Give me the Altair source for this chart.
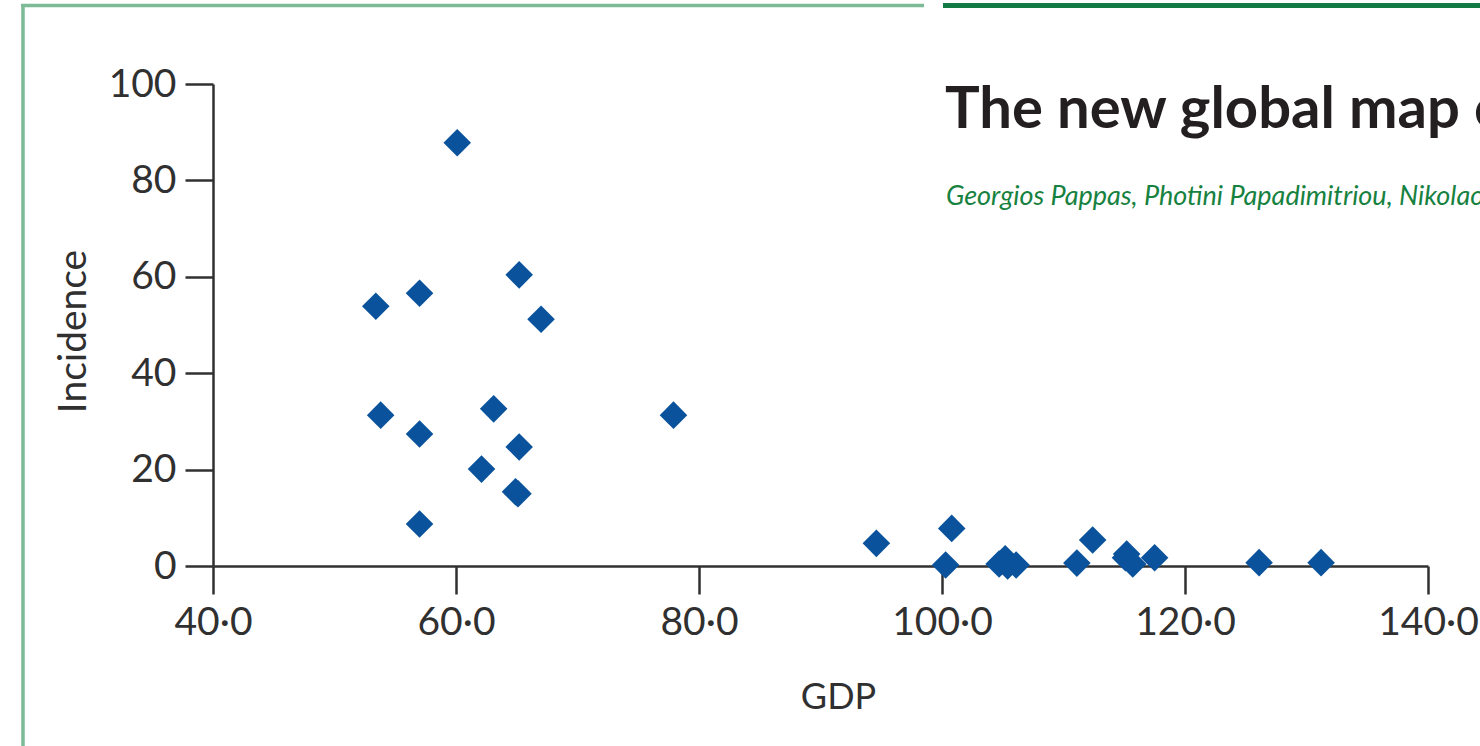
import altair as alt
import pandas as pd

# Data
gdp = [60.1, 53.4, 57.0, 65.2, 67.0, 53.8, 57.0, 63.1, 62.1, 65.2, 64.9, 65.1,
       57.0, 77.9, 94.6, 100.8, 100.3, 104.7, 105.2, 105.4, 106.1, 111.1,
       112.4, 115.1, 115.2, 115.7, 117.5, 126.1, 131.2]
incidence = [87.8, 53.9, 56.6, 60.4, 51.2, 31.3, 27.4, 32.6, 20.1, 24.7, 15.4,
             15.0, 8.7, 31.3, 4.7, 7.8, 0.2, 0.4, 1.5, 0.0, 0.2, 0.6, 5.4,
             1.7, 2.5, 0.4, 1.7, 0.7, 0.7]
x_ticks = [40, 60, 80, 100, 120, 140]
y_ticks = [0, 20, 40, 60, 80, 100]

title_text = ["The new global map of human brucellosis"]
author_text = ["Georgios Pappas, Photini Papadimitriou, Nikolaos Akritidis, "
               "Leonidas Christou, Epameinondas V Tsianos"]

df = pd.DataFrame({"GDP": gdp, "Incidence": incidence})
one = pd.DataFrame({"k": [0]})

FONT = "Lato"
AX = "#303030"

points = alt.Chart(df).mark_point(
    shape="diamond", filled=True, size=760, color="#0a539c", opacity=1
).encode(
    x=alt.X("GDP:Q", scale=alt.Scale(domain=[40, 140], nice=False, zero=False),
            axis=alt.Axis(values=x_ticks, title="GDP", labelFlush=False,
                          labelExpr="replace(format(datum.value, '.1f'), '.', '·')",
                          titleX=625, titleY=142, titleBaseline="alphabetic",
                          titleFontSize=36)),
    y=alt.Y("Incidence:Q", scale=alt.Scale(domain=[0, 100], nice=False),
            axis=alt.Axis(values=y_ticks, title="Incidence", labelFlush=False,
                          titleX=-128, titleY=247, titleAngle=-90,
                          titleBaseline="alphabetic", titleAlign="center",
                          titleFontSize=39)),
)

left_line = alt.Chart(one).mark_rule(color="#7dbb96", strokeWidth=3.5).encode(
    x=alt.value(-190), y=alt.value(-80), y2=alt.value(662))
top_line = alt.Chart(one).mark_rule(color="#7dbb96", strokeWidth=3.5).encode(
    x=alt.value(-192), x2=alt.value(711), y=alt.value(-78.5))
dark_bar = alt.Chart(one).mark_rule(color="#127a44", strokeWidth=5).encode(
    x=alt.value(730), x2=alt.value(1300), y=alt.value(-78.5))

title = alt.Chart(pd.DataFrame({"t": title_text})).mark_text(
    font=FONT, fontSize=58, fontWeight="bold", color="#231f20",
    align="left", baseline="alphabetic"
).encode(x=alt.value(732), y=alt.value(44), text="t:N")

authors = alt.Chart(pd.DataFrame({"t": author_text})).mark_text(
    font=FONT, fontSize=27, fontStyle="italic", color="#17823f",
    align="left", baseline="alphabetic"
).encode(x=alt.value(733), y=alt.value(121), text="t:N")

chart = alt.layer(left_line, top_line, dark_bar, points, title, authors).properties(
    width=1215, height=482,
    padding={"left": 213, "top": 84, "right": 52, "bottom": 180},
    autosize=alt.AutoSizeParams(type="none"),
    background="white",
).configure_view(stroke=None).configure_axis(
    domainColor=AX, domainWidth=2.5, tickColor=AX, tickWidth=2.5, tickSize=28,
    labelFont=FONT, labelFontSize=39, labelColor=AX, labelPadding=9,
    titleFont=FONT, titleFontWeight="normal", titleColor=AX,
    grid=False,
)

chart.save("out.html", embed_options={"renderer": "svg", "actions": False})
